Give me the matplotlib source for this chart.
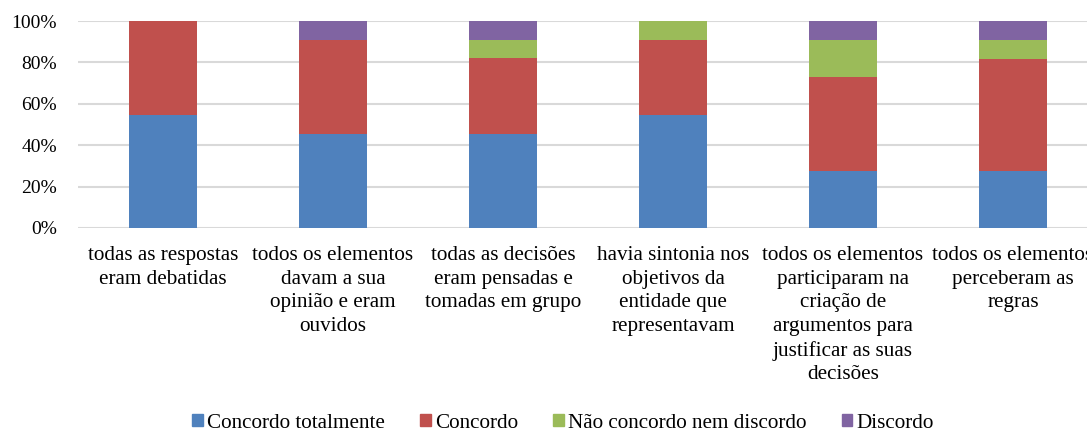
import numpy as np
import matplotlib
matplotlib.use("Agg")
import matplotlib.pyplot as plt
from matplotlib.patches import Patch

plt.rcParams["font.family"] = ["Liberation Serif", "DejaVu Serif"]

categories = [
    "todas as respostas\neram debatidas",
    "todos os elementos\ndavam a sua\nopinião e eram\nouvidos",
    "todas as decisões\neram pensadas e\ntomadas em grupo",
    "havia sintonia nos\nobjetivos da\nentidade que\nrepresentavam",
    "todos os elementos\nparticiparam na\ncriação de\nargumentos para\njustificar as suas\ndecisões",
    "todos os elementos\nperceberam as\nregras",
]
series_names = ["Concordo totalmente", "Concordo", "Não concordo nem discordo", "Discordo"]
concordo_totalmente = [54.5, 45.5, 45.5, 54.5, 27.3, 27.3]
concordo = [45.5, 45.5, 36.4, 36.4, 45.5, 54.5]
neutro = [0.0, 0.0, 9.1, 9.1, 18.2, 9.1]
discordo = [0.0, 9.1, 9.1, 0.0, 9.1, 9.1]
colors = ["#4F81BD", "#C0504D", "#9BBB59", "#8064A2"]

fig = plt.figure(figsize=(10.87, 4.32), dpi=100)
# o eixo passa um pouco da margem direita, como no original (último rótulo cortado)
ax = fig.add_axes([78 / 1087, 1 - 228 / 432, 1020 / 1087, 207 / 432])

x = np.arange(len(categories))
bottom = np.zeros(len(categories))
for vals, col in zip([concordo_totalmente, concordo, neutro, discordo], colors):
    ax.bar(x, vals, 0.4, bottom=bottom, color=col, zorder=3)
    bottom += np.array(vals)

ax.set_xlim(-0.5, len(categories) - 0.5)
ax.set_ylim(0, 100)
ax.set_yticks(np.arange(0, 101, 20))
ax.set_yticklabels([f"{v}%" for v in range(0, 101, 20)], fontsize=14)
ax.set_xticks(x)
ax.set_xticklabels(categories, fontsize=15.2, linespacing=1.33)
ax.tick_params(axis="both", length=0)
ax.tick_params(axis="x", pad=13)
ax.tick_params(axis="y", pad=15)
ax.grid(axis="y", color="#D9D9D9", linewidth=1.5, zorder=0)
for s in ax.spines.values():
    s.set_visible(False)

handles = [Patch(color=c) for c in colors]
fig.legend(handles, series_names, loc="center", bbox_to_anchor=(563 / 1087, 1 - 423 / 432),
           ncol=4, frameon=False, fontsize=15.2, handlelength=0.52, handleheight=0.52,
           handletextpad=0.2, columnspacing=1.65, borderpad=0.1)

fig.savefig("out.png", dpi=100)
